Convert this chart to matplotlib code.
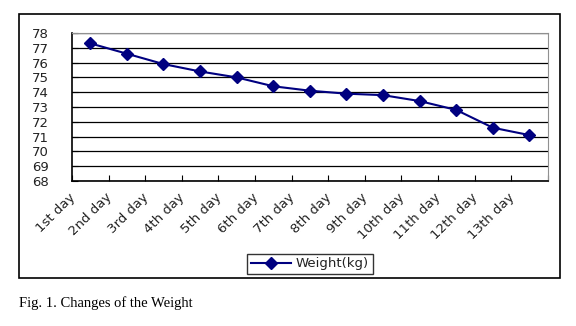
import matplotlib.pyplot as plt
import matplotlib.transforms as mtransforms
from matplotlib.patches import Rectangle

days = ["1st day", "2nd day", "3rd day", "4th day", "5th day", "6th day", "7th day",
        "8th day", "9th day", "10th day", "11th day", "12th day", "13th day"]
weight = [77.3, 76.6, 75.9, 75.4, 75.0, 74.4, 74.1, 73.9, 73.8, 73.4, 72.8, 71.6, 71.1]
yticks = list(range(68, 79))

plt.rcParams["font.family"] = ["DejaVu Sans"]
txt_color = "#222222"

fig = plt.figure(figsize=(5.76, 3.26), dpi=100)
ax = fig.add_axes([0.125, 0.4448, 0.826, 0.4540])

x = [i + 0.5 for i in range(len(days))]
ax.plot(x, weight, color="#000080", lw=1.5, marker="D", markersize=6.5,
        markerfacecolor="#000080", markeredgecolor="#000080", label="Weight(kg)")

ax.set_xlim(0, len(days))
ax.set_ylim(68, 78)
ax.set_yticks(yticks)
ax.set_yticklabels([str(v) for v in yticks], fontsize=9.5, color=txt_color)
ax.yaxis.grid(True, color="black", lw=0.9)
ax.set_axisbelow(True)

# tick marks sit on category boundaries, labels at category centres
ax.set_xticks(range(len(days) + 1))
ax.set_xticklabels([])
ax.set_xticks(x, minor=True)
ax.set_xticklabels(days, minor=True, rotation=45, ha="right", va="top",
                   rotation_mode="anchor", fontsize=9.5, color=txt_color)
ax.tick_params(axis="x", which="minor", length=0, pad=4)
ax.tick_params(axis="x", which="major", direction="in", length=4, width=0.8)
ax.tick_params(axis="y", direction="in", length=4, width=0.8, pad=17)
for lab in ax.get_xticklabels(minor=True):
    lab.set_transform(lab.get_transform() +
                      mtransforms.ScaledTranslation(-0.22, -0.04, fig.dpi_scale_trans))

for side in ("top", "right"):
    ax.spines[side].set_color("#909090")
for side in ("left", "bottom"):
    ax.spines[side].set_color("black")
    ax.spines[side].set_linewidth(1.2)

# outer chart frame
fig.patches.append(Rectangle((19 / 576, 1 - 278 / 326), (560 - 19) / 576, (278 - 14) / 326,
                             transform=fig.transFigure, fill=False, ec="black", lw=1.2))

leg = fig.legend(loc="center", bbox_to_anchor=(310 / 576, 1 - 264 / 326), fontsize=9.5,
                 frameon=True, fancybox=False, edgecolor="black", handlelength=3,
                 borderpad=0.3, handletextpad=0.4, labelcolor=txt_color)
leg.get_frame().set_linewidth(1.0)

fig.text(19 / 576, 1 - 303 / 326, "Fig. 1. Changes of the Weight", fontsize=10.5,
         family="Liberation Serif", va="center", ha="left")

fig.savefig("out.png", dpi=100)
